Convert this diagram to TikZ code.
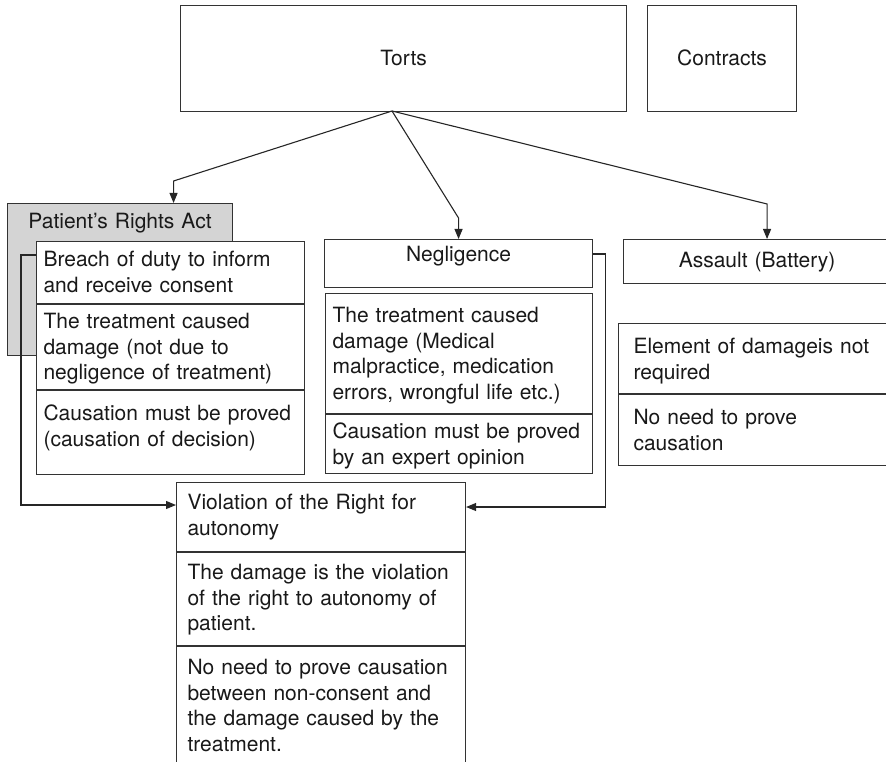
\documentclass[tikz,border=0pt]{standalone}
\usepackage{fontspec}
\setmainfont{TeX Gyre Heros}
\usetikzlibrary{arrows.meta}

\begin{document}
\begin{tikzpicture}[x=1pt,y=-1pt,
    every node/.style={font=\fontsize{21}{25.5}\selectfont, text=black!90},
    cell/.style={draw=black!80, line width=1.1pt, fill=white, anchor=north west,
        inner ysep=0pt, inner xsep=7pt, align=left},
    conn/.style={draw=black!85, line width=1.1pt, -{Triangle[length=10pt,width=8pt]}}]
    \useasboundingbox (0,0) rectangle (886,762);
    \clip (0,0) rectangle (886,762);
    \node[cell, align=center, text width=432pt, text height=60pt, text depth=46pt] (torts) at (180,5) {Torts}; %haut
    \node[cell, align=center, text width=135pt, text height=60pt, text depth=46pt] (contracts) at (647,5) {Contracts};
    \node[cell, fill=black!17, align=center, text width=211pt, text height=25pt, text depth=127pt] (act) at (7,203) {Patient’s Rights Act}; %boite grise
    \node[cell, text width=254pt, text height=25pt, text depth=37pt] (breach) at (36,241) {Breach of duty to inform\\and receive consent};
    \node[cell, text width=254pt, text height=24pt, text depth=61pt] (harm) at (breach.south west) {The treatment caused\\damage (not due to\\negligence of treatment)};
    \node[cell, text width=254pt, text height=30pt, text depth=54pt] (proof) at (harm.south west) {Causation must be proved\\(causation of decision)};
    \node[cell, align=center, text width=254pt, text height=22pt, text depth=26pt] (negl) at (324,239) {Negligence}; %milieu
    \node[cell, text width=253pt, text height=29pt, text depth=91pt] (nharm) at (325,293) {The treatment caused\\damage (Medical\\malpractice, medication\\errors, wrongful life etc.)};
    \node[cell, text width=253pt, text height=24pt, text depth=35pt] (nproof) at (nharm.south west) {Causation must be proved\\by an expert opinion};
    \node[cell, align=center, text width=253pt, text height=28pt, text depth=16pt] (assault) at (623,239) {Assault (Battery)}; %droite
    \node[cell, inner xsep=15pt, text width=242pt, text height=30pt, text depth=40pt] (nodmg) at (618,323) {Element of damageis not\\required};
    \node[cell, inner xsep=15pt, text width=242pt, text height=30pt, text depth=41pt] (nocaus) at (nodmg.south west) {No need to prove\\causation};
    \node[cell, inner xsep=11pt, text width=267pt, text height=27pt, text depth=42pt] (viol) at (176,482) {Violation of the Right for\\autonomy}; %bas
    \node[cell, inner xsep=11pt, text width=267pt, text height=27pt, text depth=66pt] (vdmg) at (viol.south west) {The damage is the violation\\of the right to autonomy of\\patient.};
    \node[cell, inner xsep=11pt, text width=267pt, text height=28pt, text depth=110pt] (vcaus) at (vdmg.south west) {No need to prove causation\\between non-consent and\\the damage caused by the\\treatment.};
    \coordinate (fork) at (392,111);
    \draw[conn] (fork) -- ([xshift=53.5pt,yshift=22pt]act.north) -- ([xshift=53.5pt]act.north);
    \draw[conn] (fork) -- ([yshift=21pt]negl.north) -- (negl.north);
    \draw[conn] (fork) -- ([xshift=10pt,yshift=35pt]assault.north) -- ([xshift=10pt]assault.north);
    \draw[conn] ([yshift=-14pt]breach.north west) -- ++(-15,0) |- ([yshift=-23pt]viol.north west);
    \draw[conn] ([yshift=-15pt]negl.north east) -- ++(12,0) |- ([yshift=-25pt]viol.north east);
\end{tikzpicture}
\end{document}
